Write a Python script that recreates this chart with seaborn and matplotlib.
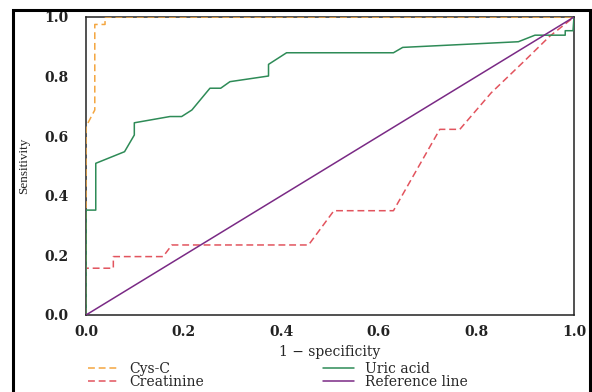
import numpy as np
import pandas as pd
import matplotlib
matplotlib.use('Agg')
import matplotlib.pyplot as plt
from matplotlib.patches import Rectangle
import seaborn as sns

# ROC curves
cys_x = [0, 0, 0.018, 0.018, 0.039, 0.039, 1.0]
cys_y = [0, 0.632, 0.688, 0.975, 0.975, 1.0, 1.0]

crea_x = [0, 0, 0.056, 0.056, 0.158, 0.176, 0.456, 0.508, 0.630, 0.725, 0.766, 0.83, 0.90, 0.95, 1.0]
crea_y = [0, 0.157, 0.157, 0.196, 0.196, 0.235, 0.235, 0.35, 0.35, 0.623, 0.623, 0.745, 0.855, 0.935, 1.0]

uric_x = [0, 0, 0.020, 0.020, 0.079, 0.099, 0.099, 0.172, 0.196, 0.217, 0.254, 0.276, 0.295,
          0.374, 0.374, 0.411, 0.630, 0.649, 0.886, 0.920, 0.982, 0.982, 0.998, 1.0]
uric_y = [0, 0.352, 0.352, 0.509, 0.548, 0.604, 0.645, 0.666, 0.666, 0.688, 0.761, 0.761, 0.783,
          0.802, 0.841, 0.880, 0.880, 0.898, 0.917, 0.939, 0.939, 0.954, 0.954, 1.0]

ref_x = [0, 1]
ref_y = [0, 1]

ticks = [0.0, 0.2, 0.4, 0.6, 0.8, 1.0]
tick_labels = ['0.0', '0.2', '0.4', '0.6', '0.8', '1.0']

sns.set_style('white')
plt.rcParams['font.family'] = ['DejaVu Serif']

fig = plt.figure(figsize=(5.92, 3.92), dpi=100)
ax = fig.add_axes([86 / 592, 1 - 315 / 392, 488 / 592, 298 / 392])

series = [
    ('Cys-C', cys_x, cys_y, '#f4a640', (0, (4.5, 2.5))),
    ('Creatinine', crea_x, crea_y, '#e2545e', (0, (4.5, 2.5))),
    ('Uric acid', uric_x, uric_y, '#2e8b57', '-'),
    ('Reference line', ref_x, ref_y, '#7a2a85', '-'),
]

handles = {}
for name, xs, ys, col, ls in series:
    df = pd.DataFrame({'x': xs, 'y': ys})
    sns.lineplot(data=df, x='x', y='y', sort=False, estimator=None, color=col,
                 linewidth=1.1, linestyle=ls, ax=ax, label=name)
    handles[name] = ax.lines[-1]
ax.get_legend().remove()

ax.set_xlim(0, 1)
ax.set_ylim(0, 1)
ax.set_xticks(ticks)
ax.set_yticks(ticks)
ax.set_xticklabels(tick_labels, fontweight='bold')
ax.set_yticklabels(tick_labels, fontweight='bold')
ax.tick_params(direction='out', width=1, colors='#222222', labelsize=10, labelcolor='#222222')
ax.tick_params(axis='x', length=4, pad=3.5)
ax.tick_params(axis='y', length=6.5, pad=6)
for s in ax.spines.values():
    s.set_color('#222222')
    s.set_linewidth(1.1)
    s.set_zorder(0)

ax.set_xlabel('1 − specificity', fontsize=10, labelpad=4)
ax.set_ylabel('Sensitivity', fontsize=9.5, labelpad=10, family=['Liberation Serif'])

leg_kw = dict(loc='upper left', frameon=False, fontsize=10, handlelength=2.2, handletextpad=0.8,
              labelspacing=-0.05, borderaxespad=0, borderpad=0)
fig.legend([handles['Cys-C'], handles['Creatinine']], ['Cys-C', 'Creatinine'],
           bbox_to_anchor=(88 / 592, 1 - 362 / 392), **leg_kw)
fig.legend([handles['Uric acid'], handles['Reference line']], ['Uric acid', 'Reference line'],
           bbox_to_anchor=(323 / 592, 1 - 362 / 392), **leg_kw)

# black frame around the picture
fig.add_artist(Rectangle((13 / 592, -0.05), 577 / 592, 1.05 - 10 / 392, transform=fig.transFigure,
                         fill=False, edgecolor='black', linewidth=2.2))

fig.savefig('out.png', dpi=100)
